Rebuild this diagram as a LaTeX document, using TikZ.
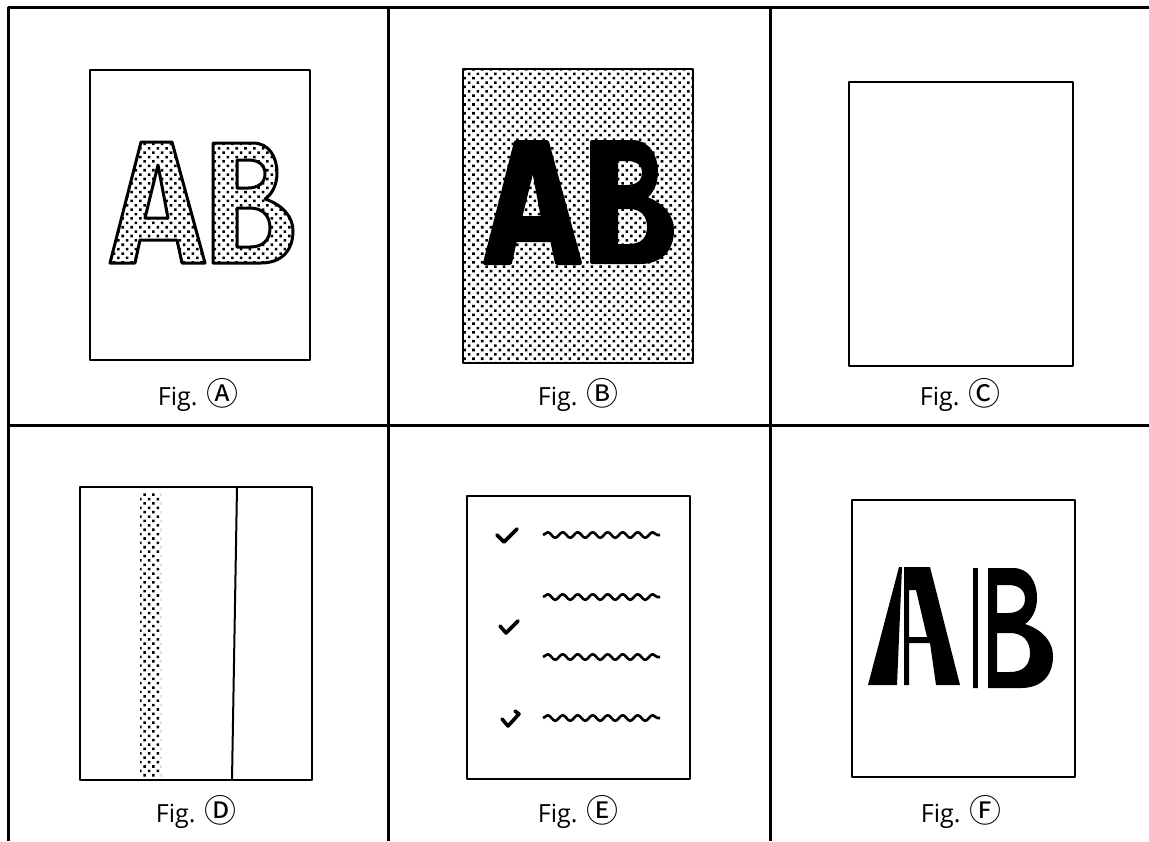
\documentclass[tikz,border=0pt]{standalone}
\usepackage{fontspec}
\setmainfont{Open Sans}
\newfontfamily\circfont{Noto Sans CJK SC}
\usetikzlibrary{patterns.meta,decorations.pathmorphing}

% letter outlines, origin at the top left of the letter
\newcommand{\glyphA}{(0,121) -- (31,0) -- (62,0) -- (95,121) -- (72,121) -- (67,98) -- (30,98) -- (25,121) -- cycle
  (48,23) -- (58,76) -- (35,76) -- cycle}
\newcommand{\glyphB}{(0,0) -- (40,0) .. controls (56,0) and (64,14) .. (64,30) .. controls (64,43) and (58,52) .. (52,56)
  .. controls (70,62) and (80,74) .. (80,88) .. controls (80,108) and (68,120) .. (48,120) -- (0,120) -- cycle
  (24,17) -- (35,17) .. controls (47,17) and (52,23) .. (52,31) .. controls (52,40) and (45,45) .. (35,45) -- (24,45) -- cycle
  (24,65) -- (37,65) .. controls (50,65) and (57,73) .. (57,85) .. controls (57,97) and (50,104) .. (37,104) -- (24,104) -- cycle}

\begin{document}
\begin{tikzpicture}[x=0.5pt, y=-0.5pt, line join=round,
  frame/.style={line width=1.5pt},
  panel/.style={line width=1pt},
  dotfill/.style={pattern={Dots[distance=3.1pt, radius=0.9pt, angle=45]}},
  wave/.style={line width=1.3pt, decorate, decoration={snake, segment length=7.5pt, amplitude=1.4pt}},
  tick/.style={line width=1.8pt, line cap=round},
  caption/.style={font=\fontsize{12.5}{14}\selectfont}]
  \useasboundingbox (0,0) rectangle (1149,841);
  % grid
  \draw[frame] (8,841) -- (8,7) -- (1149,7);
  \draw[frame] (388,7) -- (388,841);
  \draw[frame] (770,7) -- (770,841);
  \draw[frame] (8,425) -- (1149,425);
  % A: outlined letters
  \draw[panel] (90,70) rectangle (310,360);
  \draw[line width=1.5pt, dotfill, even odd rule, shift={(110,142)}] \glyphA;
  \draw[line width=1.5pt, dotfill, even odd rule, shift={(213,143)}] \glyphB;
  % B: inverted
  \fill[dotfill] (463,69) rectangle (693,363);
  \draw[panel] (463,69) rectangle (693,363);
  \filldraw[line width=2pt, even odd rule, shift={(485,142)}] \glyphA;
  \filldraw[line width=2pt, even odd rule, shift={(592,142)}] \glyphB;
  % C: blank
  \draw[panel] (849,82) rectangle (1073,366);
  % D: stripe
  \draw[panel] (80,487) rectangle (312,780);
  \fill[dotfill] (140,492) rectangle (161,776);
  \draw[panel] (237,487) -- (232,780);
  % E: marks and lines
  \draw[panel] (467,496) rectangle (690,779);
  \foreach \y in {535,597,657,718}
    \draw[wave] (543,\y) -- (660,\y);
  \draw[tick] (497,535) -- (504,542) -- (517,529);
  \draw[tick] (500,626) -- (506,633) -- (518,621);
  \draw[tick] (502,719) -- (508,726) -- (519,714) -- (515,711);
  % F: split letters
  \draw[panel] (852,500) rectangle (1075,777);
  \fill (868,685) -- (899,567) -- (902,567) -- (897,685) -- cycle;
  \fill[even odd rule] (904,567) -- (930,567) -- (960,685) -- (936,685) -- (930,643) -- (909,643) -- (909,685) -- (904,685) -- cycle
    (909,590) -- (916,590) -- (927,637) -- (909,637) -- cycle;
  \fill[even odd rule, shift={(973,568)}] \glyphB;
  \fill[white] (978,564) rectangle (988,692);
  % captions
  \foreach \n/\x/\y/\c in {figA/198/395/Ⓐ, figB/578/395/Ⓑ, figC/960/395/Ⓒ,
                          figD/196/812/Ⓓ, figE/578/812/Ⓔ, figF/961/812/Ⓕ}
    \node[caption] (\n) at (\x,\y) {Fig. {\circfont\fontsize{16}{16}\selectfont\c}};
\end{tikzpicture}
\end{document}
